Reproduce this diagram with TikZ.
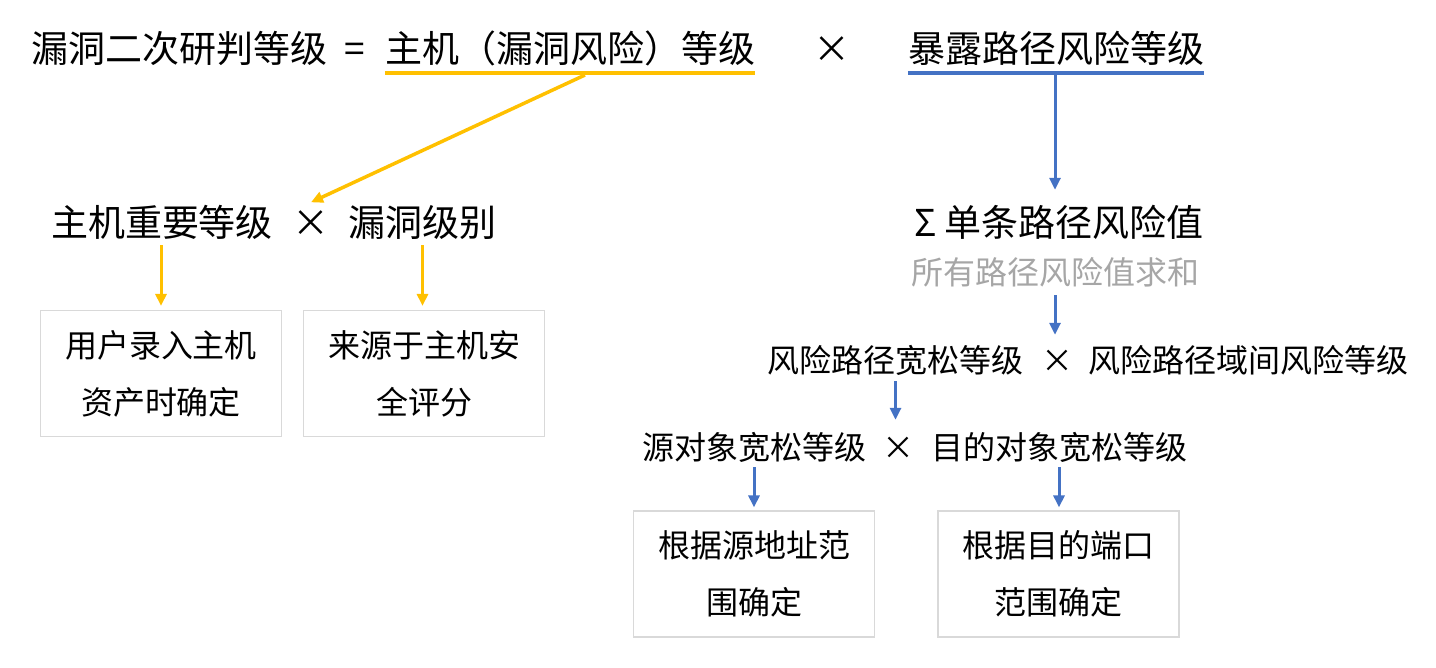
\documentclass[tikz,border=0pt]{standalone}
\usepackage{fontspec}
\setmainfont{Noto Sans CJK SC}
\usetikzlibrary{arrows.meta}
\definecolor{hostyellow}{RGB}{255,192,0}
\definecolor{pathblue}{RGB}{68,114,196}
\definecolor{boxgray}{RGB}{217,217,217}
\definecolor{notegray}{RGB}{166,166,166}
\tikzset{
  big/.style={font=\fontsize{37}{44}\selectfont, inner sep=0pt, text height=29.6pt, text depth=7.4pt},
  small/.style={font=\fontsize{32}{38}\selectfont, inner sep=0pt, text height=25.6pt, text depth=6.4pt},
  srcbox/.style={draw=boxgray, line width=1.2pt, align=center, inner sep=0pt,
    font=\fontsize{32}{57}\selectfont, minimum width=241pt, minimum height=126pt},
  yarrow/.style={hostyellow, line width=3pt, -{Triangle[length=12pt,width=11pt]}},
  barrow/.style={pathblue, line width=3pt, -{Triangle[length=12pt,width=11pt]}},
}
\begin{document}
\begin{tikzpicture}[x=1pt,y=-1pt]
            \useasboundingbox (0,0) rectangle (1436,668);
            % formula
            \node[big] (lhs) at (179,51) {漏洞二次研判等级};
            \node[big] (eq) at (355,51) {=};
            \node[big] (host) at (570,51) {主机（漏洞风险）等级};
            \node[big] (times1) at (832,51) {×};
            \node[big] (expo) at (1056,51) {暴露路径风险等级};
            \draw[hostyellow, line width=4pt] ([yshift=-3.5pt]host.south west) -- ([yshift=-3.5pt]host.south east);
            \draw[pathblue, line width=4pt] ([yshift=-3.5pt]expo.south west) -- ([yshift=-3.5pt]expo.south east);
            \coordinate (hostu) at (585,75);
            \coordinate (expou) at (1055,75);
%
            % host side
            \node[big] (hostimp) at (162,225) {主机重要等级};
            \node[big] (times2) at (311,225) {×};
            \node[big] (vulnlvl) at (422.5,225) {漏洞级别};
            \node[srcbox] (box1) at (161,373.5) {用户录入主机\\资产时确定};
            \node[srcbox] (box2) at (424,373.5) {来源于主机安\\全评分};
            \draw[yarrow, line width=3.5pt] (hostu) -- ([yshift=4pt]times2.north);
            \draw[yarrow, shorten <=1.5pt, shorten >=4pt] (box1.north |- hostimp.south) -- (box1.north);
            \draw[yarrow, shorten <=1.5pt, shorten >=4pt] (vulnlvl.south) -- (vulnlvl.south |- box2.north);
%
            % path side
            \node[big] (sum) at (1059,225) {Σ 单条路径风险值};
            \node[small, notegray] (note) at (1055,275) {所有路径风险值求和};
            \node[small] (loose) at (895.5,363) {风险路径宽松等级};
            \node[small] (times3) at (1057,363) {×};
            \node[small] (inter) at (1248.5,363) {风险路径域间风险等级};
            \node[small] (src) at (754,450) {源对象宽松等级};
            \node[small] (times4) at (898,450) {×};
            \node[small] (dst) at (1059,450) {目的对象宽松等级};
            \node[srcbox] (box3) at (754,574) {根据源地址范\\围确定};
            \node[srcbox] (box4) at (1058.5,574) {根据目的端口\\范围确定};
            \draw[barrow, shorten >=16.5pt] (expou) -- (expou |- sum.north);
            \draw[barrow, shorten <=4pt, shorten >=12pt] (note.south) -- (note.south |- times3.north);
            \draw[barrow, shorten <=2pt, shorten >=14pt] (loose.south) -- (loose.south |- times4.north);
            \draw[barrow, shorten <=1pt, shorten >=3pt] (src.south) -- (box3.north);
            \draw[barrow, shorten <=1pt, shorten >=3pt] (dst.south) -- (dst.south |- box4.north);
        \end{tikzpicture}
\end{document}
